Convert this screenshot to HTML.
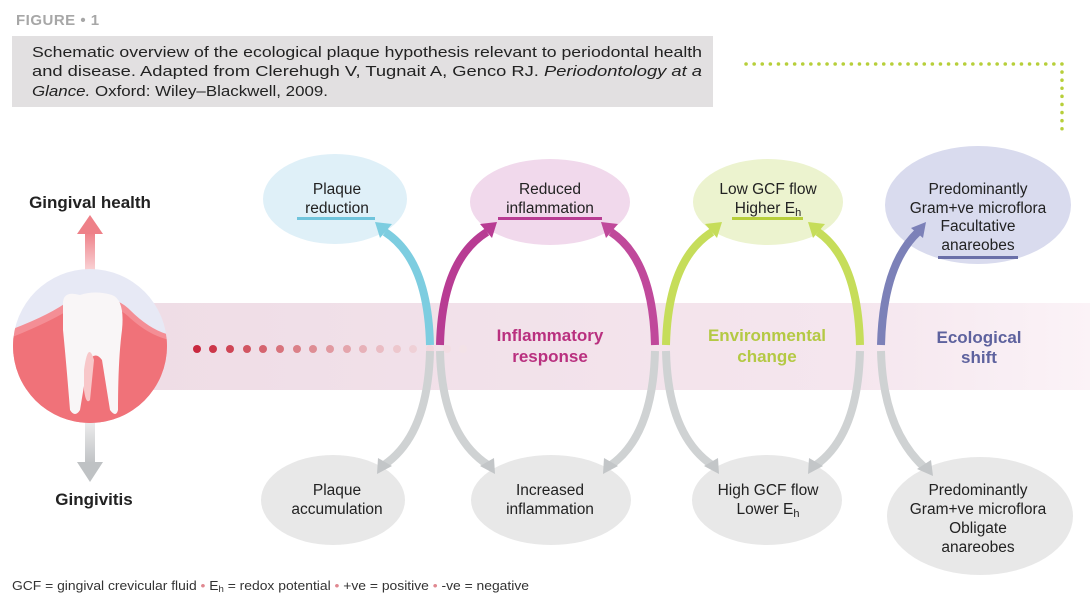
<!DOCTYPE html>
<html><head><meta charset="utf-8"><style>
html,body{margin:0;padding:0;background:#fff;}
svg{display:block;}
text{font-family:"Liberation Sans",sans-serif;}
</style></head><body>
<svg width="1090" height="603" viewBox="0 0 1090 603" xmlns="http://www.w3.org/2000/svg">
<defs>
<linearGradient id="band" x1="0" x2="1" y1="0" y2="0">
<stop offset="0" stop-color="#efdde6"/><stop offset="0.75" stop-color="#f5e6ee"/><stop offset="1" stop-color="#fbf3f7"/>
</linearGradient>
<linearGradient id="gup" x1="0" y1="1" x2="0" y2="0"><stop offset="0" stop-color="#fbe0e2"/><stop offset="1" stop-color="#ee8088"/></linearGradient>
<linearGradient id="gdn" x1="0" y1="0" x2="0" y2="1"><stop offset="0" stop-color="#eeeeee"/><stop offset="1" stop-color="#bfc2c4"/></linearGradient>
<clipPath id="cc"><circle cx="90" cy="346" r="77"/></clipPath>
</defs>

<text x="16" y="25" font-size="15" font-weight="bold" fill="#a7a7a7" letter-spacing="0.5">FIGURE • 1</text>
<rect x="12" y="36" width="701" height="71" fill="#e2e0e1"/>
<text x="32" y="57" font-size="14.5" fill="#222" textLength="670" lengthAdjust="spacingAndGlyphs">Schematic overview of the ecological plaque hypothesis relevant to periodontal health</text>
<text x="32" y="76" font-size="14.5" fill="#222" textLength="670" lengthAdjust="spacingAndGlyphs">and disease. Adapted from Clerehugh V, Tugnait A, Genco RJ. <tspan font-style="italic">Periodontology at a</tspan></text>
<text x="32" y="96" font-size="14.5" fill="#222" textLength="296" lengthAdjust="spacingAndGlyphs"><tspan font-style="italic">Glance.</tspan> Oxford: Wiley–Blackwell, 2009.</text>

<path d="M746 64 H1062 V133" fill="none" stroke="#b7cf3a" stroke-width="3.5" stroke-linecap="round" stroke-dasharray="0.1 8"/>

<rect x="150" y="303" width="940" height="87" fill="url(#band)"/>

<rect x="85" y="232" width="10" height="45" fill="url(#gup)"/>
<polygon points="77,234 90,215 103,234" fill="#ee8088"/>
<rect x="85" y="420" width="10" height="44" fill="url(#gdn)"/>
<polygon points="77,462 90,482 103,462" fill="#bfc2c4"/>
<text x="90" y="208" font-size="17" font-weight="bold" fill="#222" text-anchor="middle">Gingival health</text>
<text x="94" y="505" font-size="17" font-weight="bold" fill="#222" text-anchor="middle">Gingivitis</text>

<g clip-path="url(#cc)">
<rect x="10" y="265" width="160" height="165" fill="#e7e9f5"/>
<path d="M10 330 Q50 315 70 300 Q110 290 130 310 Q150 330 170 335 V430 H10Z" fill="#f48e95"/>
<path d="M10 338 Q50 322 72 308 Q110 298 130 318 Q150 336 170 340 V430 H10Z" fill="#f07279"/>
<path d="M63 305 Q62 290 80 295 Q95 290 112 295 Q125 300 122 330 Q118 360 118 410 Q116 418 110 410 L102 360 Q95 350 88 362 L80 410 Q75 418 70 410 Q66 360 63 330Z" fill="#f9f6f7"/>
<path d="M84 370 Q88 340 94 360 L90 400 Q86 405 84 390Z" fill="#f8c7c9"/>
</g>

<g>
<circle cx="197" cy="349" r="4" fill="#c9283f"/><circle cx="213" cy="349" r="4" fill="#cc3649"/><circle cx="230" cy="349" r="4" fill="#cf4555"/><circle cx="247" cy="349" r="4" fill="#d25562"/><circle cx="263" cy="349" r="4" fill="#d5646f"/><circle cx="280" cy="349" r="4" fill="#d8737c"/><circle cx="297" cy="349" r="4" fill="#db8088"/><circle cx="313" cy="349" r="4" fill="#de8d94"/><circle cx="330" cy="349" r="4" fill="#e199a0"/><circle cx="347" cy="349" r="4" fill="#e4a5ac"/><circle cx="363" cy="349" r="4" fill="#e7b1b8"/><circle cx="380" cy="349" r="4" fill="#eabcc3"/><circle cx="397" cy="349" r="4" fill="#edc7cd"/><circle cx="413" cy="349" r="4" fill="#efd0d6"/><circle cx="430" cy="349" r="4" fill="#f1d8de"/><circle cx="447" cy="349" r="4" fill="#f2dde3"/><circle cx="463" cy="349" r="4" fill="#f3e2e7"/>
</g>

<ellipse cx="335" cy="199" rx="72" ry="45" fill="#dff0f8"/>
<ellipse cx="550" cy="202" rx="80" ry="43" fill="#f1d9ec"/>
<ellipse cx="768" cy="202" rx="75" ry="43" fill="#ecf3cf"/>
<ellipse cx="978" cy="205" rx="93" ry="59" fill="#d9dbee"/>
<ellipse cx="333" cy="500" rx="72" ry="45" fill="#e8e8e8"/>
<ellipse cx="551" cy="500" rx="80" ry="45" fill="#e8e8e8"/>
<ellipse cx="767" cy="500" rx="75" ry="45" fill="#e8e8e8"/>
<ellipse cx="980" cy="516" rx="93" ry="59" fill="#e8e8e8"/>

<g fill="none" stroke-width="8">
<path d="M430 345 Q428 260 385 232" stroke="#7dcde0"/>
<path d="M440 345 Q442 260 487 232" stroke="#b83c93"/>
<path d="M655 345 Q653 260 611 232" stroke="#c0499b"/>
<path d="M666 345 Q668 260 712 232" stroke="#c6dd5a"/>
<path d="M860 345 Q858 260 818 232" stroke="#c6dd5a"/>
<path d="M881 345 Q883 265 918 232" stroke="#7c81b8"/>
<g stroke="#cfd2d3">
<path d="M430 351 Q428 435 384 465"/>
<path d="M440 351 Q442 435 488 465"/>
<path d="M655 351 Q653 435 611 465"/>
<path d="M666 351 Q668 435 712 465"/>
<path d="M860 351 Q858 435 816 465"/>
<path d="M881 351 Q883 430 925 468"/>
</g>
</g>
<g>
<polygon points="375,222 392,224 380,238" fill="#7dcde0"/>
<polygon points="497,222 480,224 492,238" fill="#b83c93"/>
<polygon points="601,222 618,224 606,238" fill="#c0499b"/>
<polygon points="722,222 705,224 717,238" fill="#c6dd5a"/>
<polygon points="808,222 825,224 813,238" fill="#c6dd5a"/>
<polygon points="926,222 911,228 923,238" fill="#7c81b8"/>
<g fill="#c3c6c8">
<polygon points="377,474 378,458 392,466"/>
<polygon points="495,474 494,458 480,466"/>
<polygon points="603,474 604,458 618,466"/>
<polygon points="719,474 718,458 704,466"/>
<polygon points="808,474 809,458 823,466"/>
<polygon points="933,476 931,460 917,469"/>
</g>
</g>

<g font-size="15.5" fill="#222" text-anchor="middle">
<text x="337" y="194">Plaque</text><text x="337" y="213">reduction</text>
<text x="550" y="194">Reduced</text><text x="550" y="213">inflammation</text>
<text x="768" y="194">Low GCF flow</text><text x="768" y="213">Higher E<tspan font-size="11" dy="3">h</tspan></text>
<text x="978" y="194">Predominantly</text><text x="978" y="213">Gram+ve microflora</text><text x="978" y="231">Facultative</text><text x="978" y="250">anareobes</text>
<text x="337" y="495">Plaque</text><text x="337" y="514">accumulation</text>
<text x="550" y="495">Increased</text><text x="550" y="514">inflammation</text>
<text x="768" y="495">High GCF flow</text><text x="768" y="514">Lower E<tspan font-size="11" dy="3">h</tspan></text>
<text x="978" y="495">Predominantly</text><text x="978" y="514">Gram+ve microflora</text><text x="978" y="533">Obligate</text><text x="978" y="552">anareobes</text>
</g>
<rect x="297" y="217" width="78" height="3" fill="#6fc4dc"/>
<rect x="498" y="217" width="104" height="3" fill="#b83c93"/>
<rect x="732" y="217" width="71" height="3" fill="#b7cf3a"/>
<rect x="938" y="256" width="80" height="3" fill="#6a6fa8"/>

<g font-size="17" font-weight="bold" text-anchor="middle">
<text x="550" y="341" fill="#b9307f">Inflammatory</text><text x="550" y="362" fill="#b9307f">response</text>
<text x="767" y="341" fill="#b4c944">Environmental</text><text x="767" y="362" fill="#b4c944">change</text>
<text x="979" y="343" fill="#5e629e">Ecological</text><text x="979" y="363" fill="#5e629e">shift</text>
</g>

<text x="12" y="590" font-size="13" fill="#333" textLength="517" lengthAdjust="spacingAndGlyphs">GCF = gingival crevicular fluid <tspan fill="#e08890">•</tspan> E<tspan font-size="9" dy="2">h</tspan><tspan dy="-2"> = redox potential </tspan><tspan fill="#e08890">•</tspan> +ve = positive <tspan fill="#e08890">•</tspan> -ve = negative</text>
</svg>
</body></html>
